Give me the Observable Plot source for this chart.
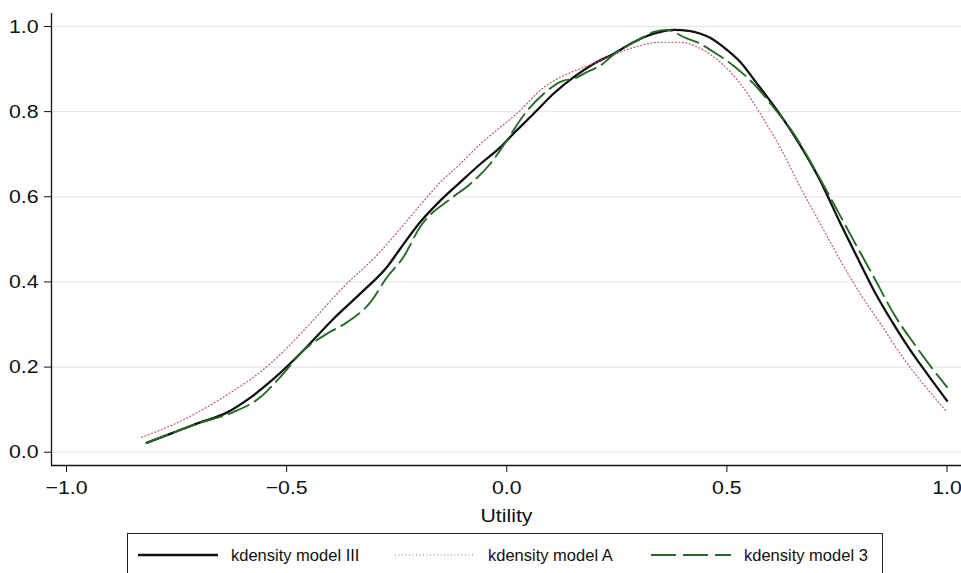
<!DOCTYPE html>
<html>
<head>
<meta charset="utf-8">
<script src="https://cdn.jsdelivr.net/npm/d3@7"></script>
<script src="https://cdn.jsdelivr.net/npm/@observablehq/plot@0.6"></script>
<style>
  html, body { margin: 0; padding: 0; background: #fff; }
  #wrap { position: relative; width: 961px; height: 573px; overflow: hidden; font-family: "Liberation Sans", Arial, Helvetica, sans-serif; }
  #legend { position: absolute; left: 127px; top: 533px; width: 756px; height: 48px; border: 1.3px solid #222; box-sizing: border-box; background: #fff; }
  .item { position: absolute; top: 0; height: 42px; display: flex; align-items: center; }
  .item svg { display: block; }
  .item span { font-size: 16.5px; color: #111; white-space: nowrap; margin-left: 13px; }
</style>
</head>
<body>
<div id="wrap"><div id="chart"></div><div id="legend"></div></div>
<script>
// ---- data ----
const seriesNames = ["kdensity model III", "kdensity model A", "kdensity model 3"];

const modelIIIX = [-0.818, -0.76, -0.704, -0.636, -0.58, -0.53, -0.462, -0.394, -0.325, -0.272, -0.242, -0.197, -0.151, -0.106, -0.060, -0.015, 0.015, 0.061, 0.106, 0.152, 0.197, 0.243, 0.288, 0.334, 0.379, 0.417, 0.44, 0.463, 0.493, 0.531, 0.569, 0.614, 0.660, 0.712, 0.758, 0.796, 0.834, 0.872, 0.910, 0.955, 1.0];
const modelIIIY = [0.022, 0.045, 0.067, 0.093, 0.13, 0.172, 0.239, 0.313, 0.380, 0.435, 0.478, 0.540, 0.591, 0.634, 0.677, 0.716, 0.748, 0.795, 0.842, 0.881, 0.912, 0.936, 0.963, 0.983, 0.992, 0.989, 0.983, 0.973, 0.951, 0.916, 0.865, 0.803, 0.732, 0.638, 0.537, 0.458, 0.380, 0.312, 0.250, 0.184, 0.121];

const modelAX = [-0.829, -0.753, -0.644, -0.537, -0.454, -0.371, -0.291, -0.242, -0.197, -0.151, -0.106, -0.060, -0.015, 0.031, 0.076, 0.122, 0.167, 0.213, 0.258, 0.303, 0.349, 0.394, 0.44, 0.485, 0.531, 0.576, 0.621, 0.667, 0.712, 0.758, 0.803, 0.849, 0.894, 0.94, 0.997];
const modelAY = [0.035, 0.067, 0.129, 0.208, 0.294, 0.388, 0.467, 0.525, 0.580, 0.634, 0.677, 0.724, 0.763, 0.803, 0.850, 0.881, 0.901, 0.920, 0.940, 0.955, 0.963, 0.963, 0.948, 0.916, 0.865, 0.795, 0.716, 0.622, 0.537, 0.450, 0.372, 0.302, 0.231, 0.168, 0.098];

const model3X = [-0.818, -0.76, -0.704, -0.621, -0.560, -0.515, -0.462, -0.409, -0.363, -0.310, -0.272, -0.235, -0.197, -0.128, -0.083, -0.038, 0.0, 0.038, 0.084, 0.129, 0.152, 0.182, 0.212, 0.25, 0.296, 0.334, 0.364, 0.406, 0.432, 0.47, 0.515, 0.561, 0.606, 0.652, 0.697, 0.743, 0.788, 0.834, 0.879, 0.925, 0.97, 1.0];
const model3Y = [0.022, 0.045, 0.067, 0.094, 0.129, 0.176, 0.239, 0.278, 0.305, 0.352, 0.411, 0.458, 0.529, 0.595, 0.630, 0.677, 0.732, 0.791, 0.842, 0.873, 0.877, 0.893, 0.908, 0.940, 0.967, 0.987, 0.992, 0.973, 0.963, 0.940, 0.908, 0.865, 0.810, 0.748, 0.669, 0.583, 0.497, 0.411, 0.325, 0.255, 0.192, 0.153];

const xTicks = [-1, -0.5, 0, 0.5, 1];
const xTickLabels = ["\u22121.0", "\u22120.5", "0.0", "0.5", "1.0"];
const yTicks = [0, 0.2, 0.4, 0.6, 0.8, 1.0];
const yTickLabels = ["0.0", "0.2", "0.4", "0.6", "0.8", "1.0"];
const xTitle = "Utility";

// ---- styles ----
const styles = [
  {stroke: "#111111", strokeWidth: 2.3, strokeDasharray: null},
  {stroke: "#c4566c", strokeWidth: 1.2, strokeDasharray: "1,2.5"},
  {stroke: "#256b25", strokeWidth: 1.9, strokeDasharray: "22,7"}
];

const toRows = (xs, ys) => xs.map((x, i) => ({x, y: ys[i]}));
const seriesRows = [toRows(modelIIIX, modelIIIY), toRows(modelAX, modelAY), toRows(model3X, model3Y)];

const xDomain = [-1.0341, 1.0329];
const yDomain = [-0.0312, 1.0305];
const fmt = (ticks, labels) => d => { const i = ticks.findIndex(t => Math.abs(t - d) < 1e-9); return i >= 0 ? labels[i] : ""; };

const chart = Plot.plot({
  width: 961,
  height: 530,
  marginLeft: 51,
  marginRight: 0,
  marginTop: 13,
  marginBottom: 65,
  style: {fontFamily: "'Liberation Sans', Arial, Helvetica, sans-serif", fontSize: "19px", color: "#111", background: "#fff"},
  x: {domain: xDomain, ticks: xTicks, tickFormat: fmt(xTicks, xTickLabels), tickSize: 7, tickPadding: 8, label: null},
  y: {domain: yDomain, ticks: yTicks, tickFormat: fmt(yTicks, yTickLabels), tickSize: 7, tickPadding: 6, label: null},
  marks: [
    Plot.ruleY(yTicks, {stroke: "#e2eaed", strokeWidth: 1.3}),
    ...seriesRows.map((rows, i) => Plot.line(rows, {x: "x", y: "y", curve: "monotone-x", stroke: styles[i].stroke, strokeWidth: styles[i].strokeWidth, strokeDasharray: styles[i].strokeDasharray})),
    Plot.ruleX([xDomain[0]], {stroke: "#111", strokeWidth: 1.3}),
    Plot.ruleY([yDomain[0]], {stroke: "#111", strokeWidth: 1.3}),
    Plot.text([xTitle], {frameAnchor: "bottom", text: d => d, dy: 56, fontSize: 19, fill: "#111"})
  ]
});
document.getElementById("chart").appendChild(chart);

// Reference glyphs are slightly wider than Liberation Sans: stretch horizontally a little
chart.querySelectorAll("text").forEach(t => {
  const L = t.getComputedTextLength();
  if (L > 0) { t.setAttribute("textLength", (L * 1.12).toFixed(1)); t.setAttribute("lengthAdjust", "spacingAndGlyphs"); }
});

// ---- legend ----
const legend = document.getElementById("legend");
const itemLeft = [10, 267, 523];
seriesNames.forEach((name, i) => {
  const item = document.createElement("div");
  item.className = "item";
  item.style.left = itemLeft[i] + "px";
  const s = styles[i];
  item.innerHTML = `<svg width="80" height="10"><line x1="0" x2="80" y1="5" y2="5" stroke="${s.stroke}" stroke-width="${s.strokeWidth}" ${s.strokeDasharray ? `stroke-dasharray="${i === 2 ? '25,7' : s.strokeDasharray}"` : ""}/></svg><span>${name}</span>`;
  legend.appendChild(item);
});
</script>
</body>
</html>
